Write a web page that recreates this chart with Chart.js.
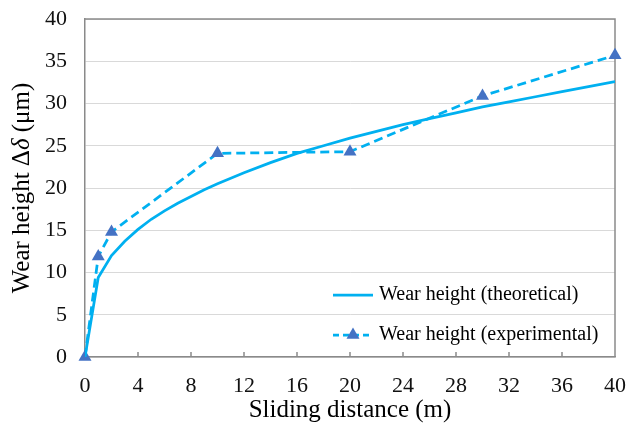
<!DOCTYPE html>
<html>
<head>
<meta charset="utf-8">
<script src="https://cdn.jsdelivr.net/npm/chart.js@4/dist/chart.umd.min.js"></script>
<style>
  html, body { margin: 0; padding: 0; background: #fff; }
  canvas { display: block; }
</style>
</head>
<body>
<canvas id="wear-chart" width="629" height="423"></canvas>
<script>
    // values
    var theoDistance = [0, 1, 2, 3, 4, 5, 6, 7, 8, 9, 10, 12, 14, 16, 18, 20, 22, 24, 26, 28, 30, 32, 34, 36, 38, 40];
    var theoHeight = [0, 9.4, 12.0, 13.7, 15.1, 16.3, 17.3, 18.2, 19.0, 19.8, 20.5, 21.8, 23.0, 24.1, 25.0, 25.9, 26.7, 27.5, 28.2, 28.9, 29.6, 30.2, 30.8, 31.4, 32.0, 32.6];
    var expDistance = [0, 1, 2, 10, 20, 30, 40];
    var expHeight = [0, 11.9, 14.8, 24.1, 24.3, 30.9, 35.7];
    var xTicks = [0, 4, 8, 12, 16, 20, 24, 28, 32, 36, 40];
    var yTicks = [0, 5, 10, 15, 20, 25, 30, 35, 40];
    var seriesNames = ['Wear height (theoretical)', 'Wear height (experimental)'];

    var serif = "'Times New Roman', 'Liberation Serif', serif";
    var lineBlue = '#00B0F0';
    var markBlue = '#4472C4';
    var axisGrey = '#8A8A8A';

    function toPoints(xs, ys) {
        return xs.map(function (x, i) { return {x: x, y: ys[i]}; });
    }

    /**
     * Box around the plot area plus the small inward ticks on the x axis.
     */
    var frame = {
        id: 'frame',
        beforeDatasetsDraw: function (chart) {
            var ctx = chart.ctx, a = chart.chartArea, xs = chart.scales.x;
            ctx.save();
            ctx.strokeStyle = axisGrey;
            ctx.lineWidth = 1.5;
            ctx.beginPath();
            ctx.moveTo(a.left, a.top);
            ctx.lineTo(a.right, a.top);
            ctx.lineTo(a.right, a.bottom);
            xTicks.forEach(function (t) {
                if (t === xs.min || t === xs.max) return;
                var px = xs.getPixelForValue(t);
                ctx.moveTo(px, a.bottom);
                ctx.lineTo(px, a.bottom - 5);
            });
            ctx.stroke();
            ctx.restore();
        }
    };

    // y title has an italic delta, so it is drawn by hand
    var yTitle = {
        id: 'yTitle',
        afterDraw: function (chart) {
            var ctx = chart.ctx, a = chart.chartArea;
            var parts = [
                ['Wear height \u0394', '25px ' + serif],
                ['\u03b4', 'italic 25px ' + serif],
                [' (\u03bcm)', '25px ' + serif]
            ];
            ctx.save();
            ctx.translate(22, (a.top + a.bottom) / 2);
            ctx.rotate(-Math.PI / 2);
            ctx.fillStyle = '#000';
            ctx.textBaseline = 'middle';
            ctx.textAlign = 'left';
            var total = 0;
            parts.forEach(function (p) { ctx.font = p[1]; total += ctx.measureText(p[0]).width; });
            var x = -total / 2;
            parts.forEach(function (p) {
                ctx.font = p[1];
                ctx.fillText(p[0], x, 0);
                x += ctx.measureText(p[0]).width;
            });
            ctx.restore();
        }
    };

    // legend sits inside the plot, bottom right, without a box
    var insideLegend = {
        id: 'insideLegend',
        afterDraw: function (chart) {
            var ctx = chart.ctx;
            var rows = [{y: 295, dash: []}, {y: 335, dash: [6, 4]}];
            ctx.save();
            rows.forEach(function (r, i) {
                ctx.strokeStyle = lineBlue;
                ctx.lineWidth = 2.75;
                ctx.setLineDash(r.dash);
                ctx.beginPath();
                ctx.moveTo(333, r.y);
                ctx.lineTo(373, r.y);
                ctx.stroke();
                ctx.setLineDash([]);
                if (i === 1) {
                    ctx.fillStyle = markBlue;
                    ctx.strokeStyle = markBlue;
                    ctx.lineWidth = 0.01;
                    Chart.helpers.drawPoint(ctx, {pointStyle: 'triangle', radius: 7.5, borderWidth: 0}, 353, r.y);
                }
                ctx.fillStyle = '#000';
                ctx.font = '20px ' + serif;
                ctx.textBaseline = 'middle';
                ctx.fillText(seriesNames[i], 379, r.y);
            });
            ctx.restore();
        }
    };

    new Chart(document.getElementById('wear-chart'), {
        type: 'scatter',
        data: {
            datasets: [{
                label: seriesNames[0],
                data: toPoints(theoDistance, theoHeight),
                showLine: true,
                borderColor: lineBlue,
                borderWidth: 2.75,
                pointRadius: 0
            }, {
                label: seriesNames[1],
                data: toPoints(expDistance, expHeight),
                showLine: true,
                clip: false,
                borderColor: lineBlue,
                borderWidth: 2.75,
                borderDash: [9, 5],
                pointStyle: 'triangle',
                pointRadius: 7.5,
                pointBackgroundColor: markBlue,
                pointBorderColor: markBlue,
                pointBorderWidth: 0
            }]
        },
        options: {
            responsive: false,
            animation: false,
            devicePixelRatio: 1,
            layout: {padding: {top: 19, right: 14, left: 0, bottom: 0}},
            plugins: {
                legend: {display: false},
                tooltip: {enabled: false}
            },
            scales: {
                x: {
                    type: 'linear',
                    min: 0,
                    max: 40,
                    afterBuildTicks: function (s) { s.ticks = xTicks.map(function (v) { return {value: v}; }); },
                    afterFit: function (s) {
                        s.height = 66;
                        s.paddingLeft = 0;
                        s.paddingRight = 0;
                    },
                    ticks: {color: '#111', padding: 16, font: {family: serif, size: 22}},
                    grid: {drawOnChartArea: false, drawTicks: false},
                    border: {color: axisGrey, width: 1.5},
                    title: {
                        display: true,
                        text: 'Sliding distance (m)',
                        color: '#000',
                        font: {family: serif, size: 25, lineHeight: 1},
                        padding: {top: 0, bottom: 0}
                    }
                },
                y: {
                    min: 0,
                    max: 40,
                    afterBuildTicks: function (s) { s.ticks = yTicks.map(function (v) { return {value: v}; }); },
                    afterFit: function (s) {
                        s.width = 85;
                        s.paddingTop = 0;
                        s.paddingBottom = 0;
                    },
                    ticks: {color: '#111', padding: 18, font: {family: serif, size: 22}},
                    grid: {color: '#D9D9D9', lineWidth: 1, drawTicks: false},
                    border: {color: axisGrey, width: 1.5}
                }
            }
        },
        plugins: [frame, yTitle, insideLegend]
    });
</script>
</body>
</html>
